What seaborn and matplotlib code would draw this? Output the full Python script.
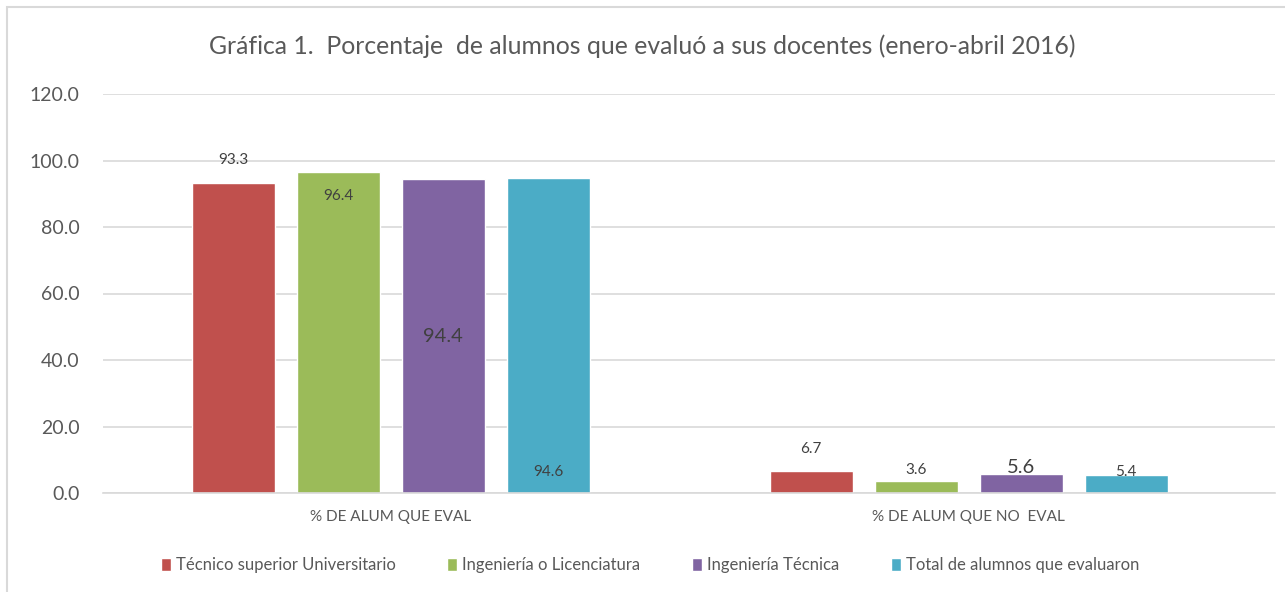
import pandas as pd
import seaborn as sns
import matplotlib.pyplot as plt
from matplotlib.patches import Rectangle

# data
categories = ['% DE ALUM QUE EVAL', '% DE ALUM QUE NO  EVAL']
series = ['Técnico superior Universitario', 'Ingeniería o Licenciatura',
          'Ingeniería Técnica', 'Total de alumnos que evaluaron']
eval_vals = [93.3, 96.4, 94.4, 94.6]
no_eval_vals = [6.7, 3.6, 5.6, 5.4]
colors = ['#C0504D', '#9BBB59', '#8064A2', '#4BACC6']

TEXT = '#595959'
GRID = '#D9D9D9'

rows = []
for s, v in zip(series, eval_vals):
    rows.append({'cat': categories[0], 'serie': s, 'val': v})
for s, v in zip(series, no_eval_vals):
    rows.append({'cat': categories[1], 'serie': s, 'val': v})
df = pd.DataFrame(rows)

sns.set_theme(style='white')
plt.rcParams['font.family'] = ['Lato', 'DejaVu Sans']

fig = plt.figure(figsize=(12.85, 5.92), dpi=100)
ax = fig.add_axes([103 / 1285, 99 / 592, 1172 / 1285, 399 / 592])

sns.barplot(data=df, x='cat', y='val', hue='serie', hue_order=series,
            palette=colors, width=0.727, gap=0.21, saturation=1,
            ax=ax, legend=True)

ax.set_ylim(0, 120)
ax.set_xlim(-0.498, 1.530)
ax.set_yticks(range(0, 121, 20))
ax.set_yticklabels([f'{t:.1f}' for t in range(0, 121, 20)], color=TEXT, fontsize=14)
ax.yaxis.grid(True, color=GRID, linewidth=1.2)
ax.set_axisbelow(True)
for sp in ['top', 'right', 'left']:
    ax.spines[sp].set_visible(False)
ax.spines['bottom'].set_color(GRID)
ax.spines['bottom'].set_linewidth(1.2)
ax.tick_params(axis='y', length=0, pad=17)
ax.tick_params(axis='x', length=0, pad=12, labelsize=11, labelcolor=TEXT)
ax.set_xlabel('')
ax.set_ylabel('')

# data labels: (mode, offset in px, fontsize) per bar, keyed (category, series)
label_layout = {
    (0, 0): ('top', 23, 11), (0, 1): ('top', -24, 11),
    (0, 2): ('mid', 0, 14.5), (0, 3): ('base', 21, 11),
    (1, 0): ('top', 22, 11), (1, 1): ('top', 11, 11),
    (1, 2): ('top', 7, 14.5), (1, 3): ('top', 3, 11),
}
vals = [eval_vals, no_eval_vals]
for h, cont in enumerate(ax.containers):
    for c, bar in enumerate(cont):
        mode, dy, fs = label_layout[(c, h)]
        x = bar.get_x() + bar.get_width() / 2
        top = bar.get_height()
        y = {'top': top, 'mid': top / 2, 'base': 0}[mode]
        ax.annotate(f'{vals[c][h]:.1f}', xy=(x, y), xytext=(0, dy),
                    textcoords='offset pixels', ha='center', va='center',
                    fontsize=fs, color='#404040')

ax.legend(loc='center', bbox_to_anchor=((650 - 103) / 1172, -(565 - 493) / 399),
          ncol=4, frameon=False, fontsize=12, labelcolor=TEXT,
          handlelength=0.6, handleheight=0.8, handletextpad=0.3,
          columnspacing=3.1)

fig.suptitle('Gráfica 1.  Porcentaje  de alumnos que evaluó a sus docentes (enero-abril 2016)',
             x=0.5, y=1 - 46 / 592, va='center', fontsize=17.8, color=TEXT)

fig.patches.append(Rectangle((7 / 1285, -0.01), 1.1, 1 - 7 / 592 + 0.01,
                             transform=fig.transFigure, fill=False,
                             edgecolor='#D9D9D9', linewidth=1.5))

fig.savefig('out.png', dpi=100)
